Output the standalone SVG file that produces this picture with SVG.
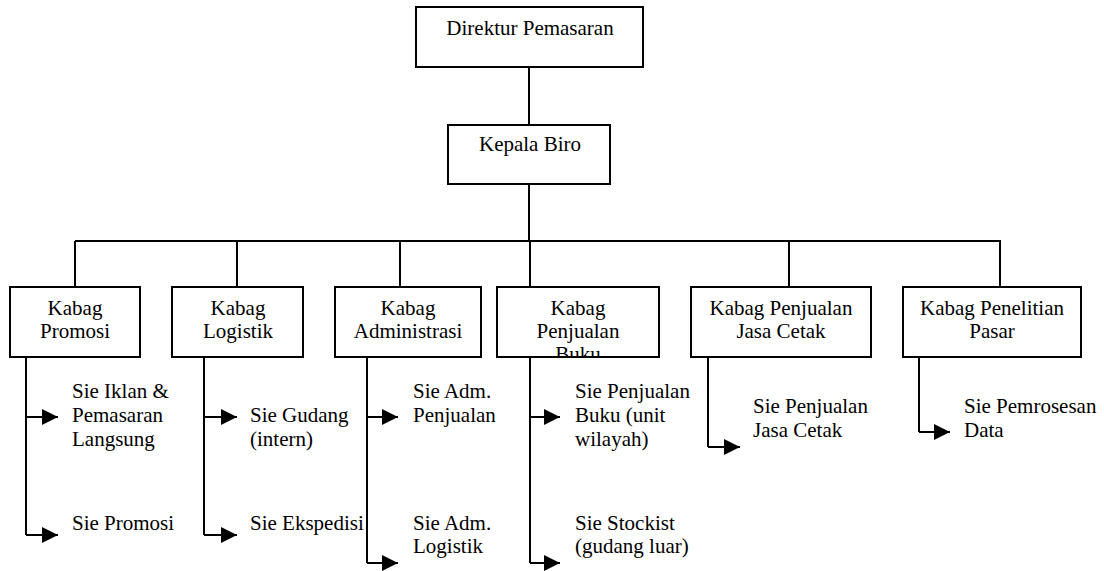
<svg xmlns="http://www.w3.org/2000/svg" width="1104" height="571" viewBox="0 0 1104 571">
  <style>
    .box { fill: #ffffff; stroke: #000000; stroke-width: 2; }
    .ln { fill: none; stroke: #000000; stroke-width: 2; }
    .arr { fill: none; stroke: #000000; stroke-width: 2; marker-end: url(#head); }
    .t { font-family: 'Liberation Serif', Tinos, 'Times New Roman', 'DejaVu Serif', serif; font-size: 21px; fill: #000000; }
    .c { text-anchor: middle; }
  </style>
  <defs>
    <marker id="head" markerUnits="userSpaceOnUse" markerWidth="17" markerHeight="18" viewBox="0 0 17 18" refX="16" refY="9" orient="auto">
      <path d="M0,1 L16,9 L0,17 Z" fill="#000000"/>
    </marker>
    <clipPath id="clip-penjualan-buku">
      <rect x="498" y="288" width="160" height="68"/>
    </clipPath>
  </defs>
  <rect width="1104" height="571" fill="#ffffff"/>

  <!-- connectors -->
  <g id="connectors">
    <line class="ln" x1="529" y1="67" x2="529" y2="125"/>
    <line class="ln" x1="529" y1="184" x2="529" y2="241"/>
    <line class="ln" x1="75" y1="241" x2="1001" y2="241"/>
    <line class="ln" x1="75" y1="241" x2="75" y2="287"/>
    <line class="ln" x1="237" y1="241" x2="237" y2="287"/>
    <line class="ln" x1="400" y1="241" x2="400" y2="287"/>
    <line class="ln" x1="530" y1="241" x2="530" y2="287"/>
    <line class="ln" x1="789" y1="241" x2="789" y2="287"/>
    <line class="ln" x1="1000" y1="241" x2="1000" y2="287"/>

    <!-- Kabag Promosi -->
    <line class="ln" x1="26" y1="357" x2="26" y2="535"/>
    <line class="arr" x1="26" y1="417" x2="58" y2="417"/>
    <line class="arr" x1="26" y1="535" x2="58" y2="535"/>
    <!-- Kabag Logistik -->
    <line class="ln" x1="204" y1="357" x2="204" y2="535"/>
    <line class="arr" x1="204" y1="417" x2="237" y2="417"/>
    <line class="arr" x1="204" y1="535" x2="237" y2="535"/>
    <!-- Kabag Administrasi -->
    <line class="ln" x1="367" y1="357" x2="367" y2="563"/>
    <line class="arr" x1="367" y1="417" x2="398" y2="417"/>
    <line class="arr" x1="367" y1="563" x2="398" y2="563"/>
    <!-- Kabag Penjualan Buku -->
    <line class="ln" x1="530" y1="357" x2="530" y2="563"/>
    <line class="arr" x1="530" y1="417" x2="560" y2="417"/>
    <line class="arr" x1="530" y1="563" x2="560" y2="563"/>
    <!-- Kabag Penjualan Jasa Cetak -->
    <line class="ln" x1="708" y1="357" x2="708" y2="447"/>
    <line class="arr" x1="708" y1="447" x2="740" y2="447"/>
    <!-- Kabag Penelitian Pasar -->
    <line class="ln" x1="919" y1="357" x2="919" y2="432"/>
    <line class="arr" x1="919" y1="432" x2="950" y2="432"/>
  </g>

  <g id="direktur-pemasaran">
    <rect class="box" x="416" y="7" width="227" height="60"/>
    <text class="t c" x="530" y="35">Direktur Pemasaran</text>
  </g>

  <g id="kepala-biro">
    <rect class="box" x="448" y="125" width="162" height="59"/>
    <text class="t c" x="530" y="151">Kepala Biro</text>
  </g>

  <g id="kabag-promosi">
    <rect class="box" x="10" y="287" width="130" height="70"/>
    <text class="t c" x="75" y="315">Kabag</text>
    <text class="t c" x="75" y="338">Promosi</text>
  </g>

  <g id="kabag-logistik">
    <rect class="box" x="172" y="287" width="131" height="70"/>
    <text class="t c" x="238" y="315">Kabag</text>
    <text class="t c" x="238" y="338">Logistik</text>
  </g>

  <g id="kabag-administrasi">
    <rect class="box" x="335" y="287" width="146" height="70"/>
    <text class="t c" x="408" y="315">Kabag</text>
    <text class="t c" x="408" y="338">Administrasi</text>
  </g>

  <g id="kabag-penjualan-buku">
    <rect class="box" x="497" y="287" width="162" height="70"/>
    <g clip-path="url(#clip-penjualan-buku)">
      <text class="t c" x="578" y="315">Kabag</text>
      <text class="t c" x="578" y="338">Penjualan</text>
      <text class="t c" x="578" y="361">Buku</text>
    </g>
  </g>

  <g id="kabag-penjualan-jasa-cetak">
    <rect class="box" x="691" y="287" width="180" height="70"/>
    <text class="t c" x="781" y="315">Kabag Penjualan</text>
    <text class="t c" x="781" y="338">Jasa Cetak</text>
  </g>

  <g id="kabag-penelitian-pasar">
    <rect class="box" x="903" y="287" width="178" height="70"/>
    <text class="t c" x="992" y="315">Kabag Penelitian</text>
    <text class="t c" x="992" y="338">Pasar</text>
  </g>

  <g id="sie-iklan">
    <text class="t" x="72" y="398">Sie Iklan &amp;</text>
    <text class="t" x="72" y="422">Pemasaran</text>
    <text class="t" x="72" y="446">Langsung</text>
  </g>
  <g id="sie-promosi">
    <text class="t" x="72" y="530">Sie Promosi</text>
  </g>

  <g id="sie-gudang">
    <text class="t" x="250" y="422">Sie Gudang</text>
    <text class="t" x="250" y="446">(intern)</text>
  </g>
  <g id="sie-ekspedisi">
    <text class="t" x="250" y="530">Sie Ekspedisi</text>
  </g>

  <g id="sie-adm-penjualan">
    <text class="t" x="413" y="398">Sie Adm.</text>
    <text class="t" x="413" y="422">Penjualan</text>
  </g>
  <g id="sie-adm-logistik">
    <text class="t" x="413" y="530">Sie Adm.</text>
    <text class="t" x="413" y="553">Logistik</text>
  </g>

  <g id="sie-penjualan-buku">
    <text class="t" x="575" y="398">Sie Penjualan</text>
    <text class="t" x="575" y="422">Buku (unit</text>
    <text class="t" x="575" y="446">wilayah)</text>
  </g>
  <g id="sie-stockist">
    <text class="t" x="575" y="530">Sie Stockist</text>
    <text class="t" x="575" y="553">(gudang luar)</text>
  </g>

  <g id="sie-penjualan-jasa-cetak">
    <text class="t" x="753" y="413">Sie Penjualan</text>
    <text class="t" x="753" y="437">Jasa Cetak</text>
  </g>

  <g id="sie-pemrosesan-data">
    <text class="t" x="964" y="413">Sie Pemrosesan</text>
    <text class="t" x="964" y="437">Data</text>
  </g>
</svg>
